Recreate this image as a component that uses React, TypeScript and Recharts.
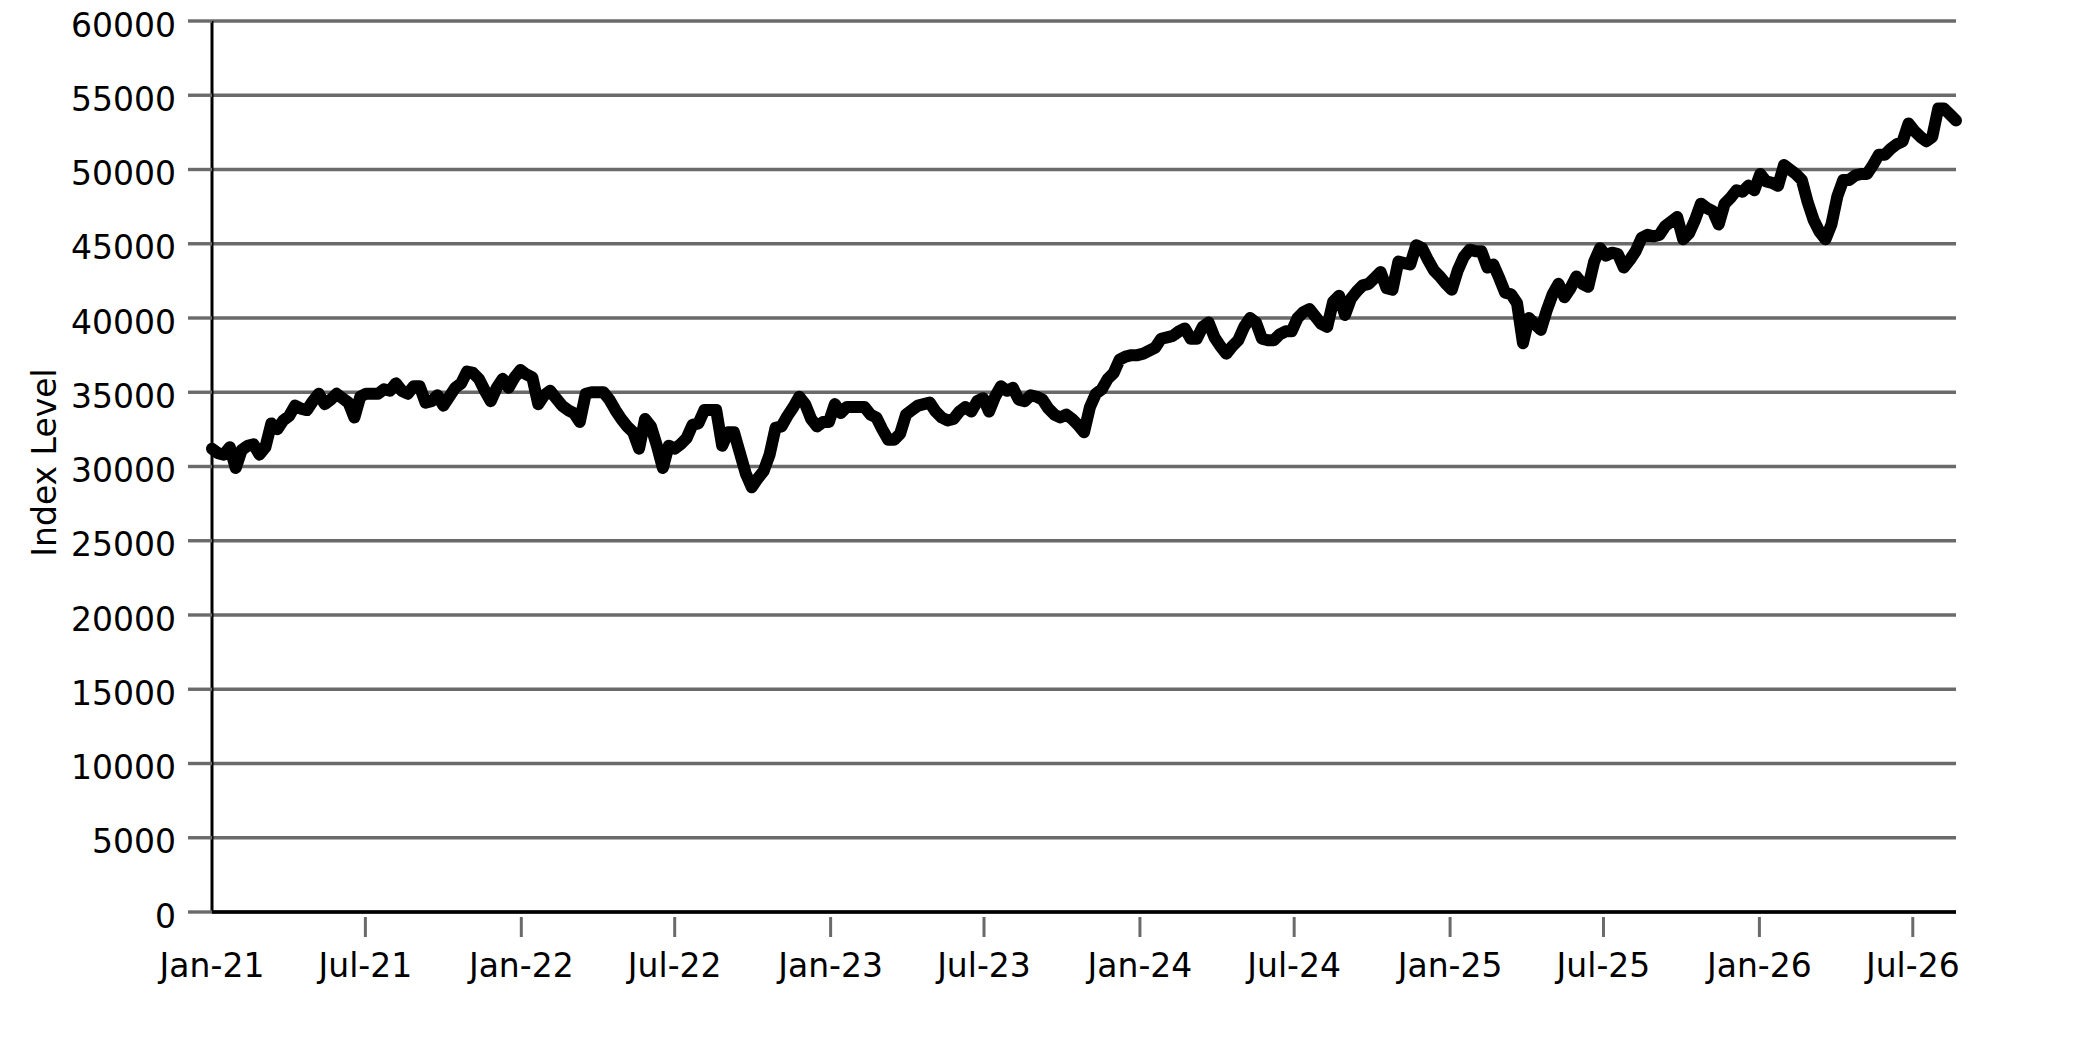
import { LineChart, Line, XAxis, YAxis, CartesianGrid } from 'recharts';

// weekly index closes, first week starts 2021-01-01
const closes2021 = [
  31200, 30900, 30800, 31300, 29900, 31100, 31400, 31500, 30800, 31300,
  32900, 32500, 33100, 33400, 34100, 33900, 33800, 34400, 34900, 34200,
  34500, 34900, 34600, 34300, 33300, 34700, 34900, 34900, 34900, 35200,
  35100, 35600, 35100, 34900, 35400, 35400, 34300, 34400, 34800, 34100,
  34700, 35300, 35600, 36400, 36300, 35900, 35100, 34400, 35300, 35900,
  35300, 36000, 36500,
];
const closes2022 = [
  36200, 36000, 34200, 34800, 35100, 34600, 34100, 33800, 33600, 33000,
  34900, 35000, 35000, 35000, 34500, 33800, 33200, 32700, 32300, 31200,
  33200, 32700, 31400, 29900, 31400, 31200, 31500, 31900, 32800, 32900,
  33800, 33800, 33800, 31400, 32300, 32300, 30900, 29500, 28600, 29200,
  29700, 30800, 32600, 32700, 33400, 34000, 34700, 34200, 33200, 32700,
  33000, 33000,
];
const closes2023 = [
  34200, 33600, 34000, 34000, 34000, 34000, 33500, 33300, 32500, 31800,
  31800, 32200, 33500, 33800, 34100, 34200, 34300, 33700, 33300, 33100,
  33200, 33700, 34000, 33700, 34400, 34600, 33700, 34700, 35400, 35100,
  35300, 34500, 34400, 34800, 34700, 34500, 33900, 33500, 33300, 33500,
  33200, 32800, 32300, 34000, 34900, 35200, 35900, 36300, 37200, 37400,
  37500, 37500,
];
const closes2024 = [
  37600, 37800, 38000, 38600, 38700, 38800, 39100, 39300, 38600, 38600,
  39400, 39700, 38700, 38100, 37600, 38100, 38500, 39400, 40000, 39700,
  38600, 38500, 38500, 38900, 39100, 39100, 40000, 40400, 40600, 40100,
  39600, 39400, 41100, 41500, 40200, 41300, 41800, 42200, 42300, 42700,
  43100, 42000, 41900, 43800, 43700, 43600, 44900, 44700, 43900, 43200,
  42800, 42300,
];
const closes2025 = [
  41900, 43200, 44100, 44600, 44500, 44500, 43400, 43600, 42700, 41700,
  41600, 41000, 38300, 40000, 39600, 39200, 40500, 41600, 42300, 41400,
  42000, 42800, 42300, 42100, 43800, 44700, 44200, 44400, 44300, 43400,
  43900, 44500, 45400, 45600, 45500, 45600, 46200, 46500, 46800, 45300,
  45700, 46600, 47700, 47400, 47200, 46300, 47700, 48100, 48600, 48500,
  48900, 48600,
];
const closes2026 = [
  49700, 49200, 49100, 48900, 50300, 50000, 49700, 49300, 47800, 46600,
  45800, 45300, 46300, 48200, 49300, 49300, 49600, 49700, 49700, 50300,
  51000, 51000, 51400, 51700, 51900, 53100, 52600, 52200, 51900, 52200,
  54100, 54100, 53700, 53300,
];

const tickDates = [
  '2021-01-01', '2021-07-01', '2022-01-01', '2022-07-01', '2023-01-01', '2023-07-01',
  '2024-01-01', '2024-07-01', '2025-01-01', '2025-07-01', '2026-01-01', '2026-07-01',
];
const tickLabels = [
  'Jan-21', 'Jul-21', 'Jan-22', 'Jul-22', 'Jan-23', 'Jul-23',
  'Jan-24', 'Jul-24', 'Jan-25', 'Jul-25', 'Jan-26', 'Jul-26',
];
const yTicks = [0, 5000, 10000, 15000, 20000, 25000, 30000, 35000, 40000, 45000, 50000, 55000, 60000];

const START = Date.UTC(2021, 0, 1);
const WEEK = 7 * 24 * 3600 * 1000;

const closes = [...closes2021, ...closes2022, ...closes2023, ...closes2024, ...closes2025, ...closes2026];
const data = closes.map((value, i) => ({ t: START + i * WEEK, value }));
const xTicks = tickDates.map((d) => Date.parse(d + 'T00:00:00Z'));

const FONT = 'DejaVu Sans';
const GRID = '#6a6a6a';

function XTick(props: any) {
  const { x, y, payload, index } = props;
  const label = tickLabels[xTicks.indexOf(payload.value)];
  return (
    <g>
      {index > 0 && <line x1={x} x2={x} y1={y + 5} y2={y + 25} stroke={GRID} strokeWidth={3} />}
      <text x={x} y={y + 65} textAnchor="middle" fontSize={33} fontFamily={FONT} fill="#000">
        {label}
      </text>
    </g>
  );
}

function YLabel(props: any) {
  const { viewBox } = props;
  const cx = 36;
  const cy = viewBox.y + viewBox.height / 2 - 4;
  return (
    <text
      x={cx}
      y={cy}
      transform={`rotate(-90, ${cx}, ${cy})`}
      textAnchor="middle"
      dominantBaseline="central"
      fontSize={33}
      fontFamily={FONT}
      fill="#000"
    >
      Index Level
    </text>
  );
}

export default function App() {
  return (
    <div style={{ width: 2060, height: 1028, marginTop: -8 }}>
      <LineChart width={2060} height={1028} data={data} margin={{ top: 21, right: 112, bottom: 36, left: 0 }}>
        <CartesianGrid vertical={false} stroke={GRID} strokeWidth={3.4} />
        <XAxis
          dataKey="t"
          type="number"
          domain={['dataMin', 'dataMax']}
          ticks={xTicks}
          interval={0}
          height={80}
          tickLine={false}
          tickSize={0}
          tickMargin={0}
          tick={<XTick />}
          axisLine={{ stroke: '#000', strokeWidth: 3.5 }}
        />
        <YAxis
          width={204}
          domain={[0, 60000]}
          ticks={yTicks}
          interval={0}
          tickSize={24}
          tickMargin={12}
          tickLine={{ stroke: GRID, strokeWidth: 3.4 }}
          axisLine={{ stroke: '#000', strokeWidth: 3 }}
          tick={{ fontSize: 33, fontFamily: FONT, fill: '#000', dy: 4 }}
          label={{ content: <YLabel /> }}
        />
        <Line
          type="linear"
          dataKey="value"
          stroke="#000"
          strokeWidth={12}
          strokeLinejoin="round"
          strokeLinecap="round"
          dot={false}
          isAnimationActive={false}
        />
      </LineChart>
    </div>
  );
}
